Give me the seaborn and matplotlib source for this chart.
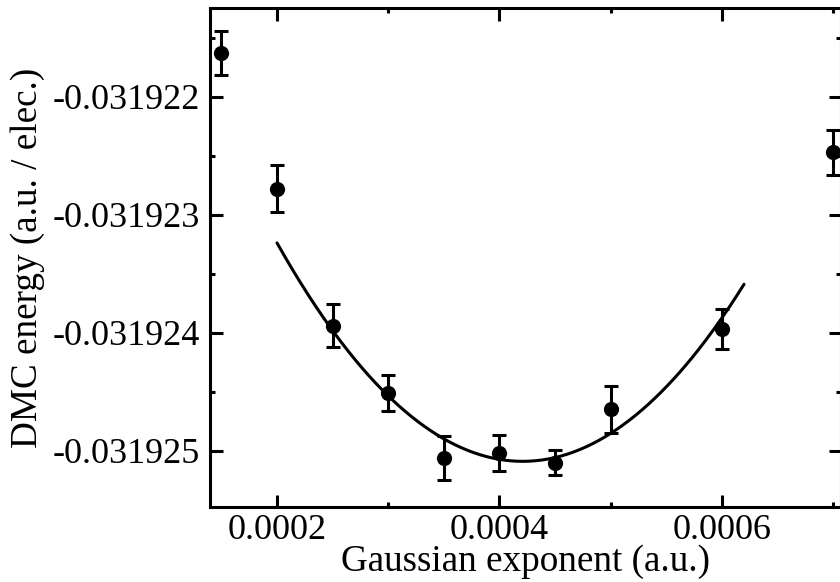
import numpy as np
import pandas as pd
import matplotlib
matplotlib.use("Agg")
import matplotlib.pyplot as plt
import seaborn as sns
from matplotlib.ticker import FixedLocator, FixedFormatter, MultipleLocator

# ---- data ----
exponent = [0.00015, 0.00020, 0.00025, 0.00030, 0.00035, 0.00040, 0.00045, 0.00050, 0.00060, 0.00070]
energy = [-0.03192163, -0.03192278, -0.03192394, -0.03192451, -0.03192506,
          -0.03192502, -0.03192510, -0.03192465, -0.03192397, -0.03192247]
energy_err = [0.00000019, 0.00000020, 0.00000018, 0.00000015, 0.000000185,
              0.000000155, 0.00000011, 0.00000020, 0.00000017, 0.00000019]

# quadratic fit curve: E = E_min + curv * (x - x_min)^2
fit_x_min = 0.000421
fit_e_min = -0.03192509
fit_curv = 37.9
fit_range = [0.00020, 0.00062]

xtick_vals = [0.0002, 0.0004, 0.0006]
xtick_labels = ["0.0002", "0.0004", "0.0006"]
ytick_vals = [-0.031922, -0.031923, -0.031924, -0.031925]
ytick_labels = ["-0.031922", "-0.031923", "-0.031924", "-0.031925"]
xlabel = "Gaussian exponent (a.u.)"
ylabel = "DMC energy (a.u. / elec.)"

sns.set_theme(style="ticks")
plt.rcParams["font.family"] = ["Liberation Serif", "DejaVu Serif"]
plt.rcParams["axes.unicode_minus"] = False

df = pd.DataFrame({"x": exponent, "e": energy, "err": energy_err})
fx = np.linspace(fit_range[0], fit_range[1], 300)
fit_df = pd.DataFrame({"x": fx, "e": fit_e_min + fit_curv * (fx - fit_x_min) ** 2})

fig = plt.figure(figsize=(8.4, 5.82), dpi=100)
ax = fig.add_axes([209.5 / 840, 75 / 582, (841 - 209.5) / 840, (507 - 8) / 582])

sns.lineplot(data=fit_df, x="x", y="e", ax=ax, color="black", linewidth=2.2, sort=False)
ax.errorbar(df["x"], df["e"], yerr=df["err"], fmt="none", ecolor="black",
            elinewidth=2.2, capsize=5, capthick=2.2, zorder=3)
sns.scatterplot(data=df, x="x", y="e", ax=ax, color="black", s=120,
                edgecolor="black", linewidth=0, zorder=4)

ax.set_xlim(0.0001393, 0.0007072)
ax.set_ylim(-0.031925477, -0.031921248)

ax.xaxis.set_major_locator(FixedLocator(xtick_vals))
ax.xaxis.set_major_formatter(FixedFormatter(xtick_labels))
ax.xaxis.set_minor_locator(MultipleLocator(0.0001))
ax.yaxis.set_major_locator(FixedLocator(ytick_vals))
ax.yaxis.set_major_formatter(FixedFormatter(ytick_labels))
ax.yaxis.set_minor_locator(MultipleLocator(0.0000005))

ax.tick_params(which="both", direction="in", top=True, right=True, color="black",
               width=2.2, labelsize=26, labelcolor="black")
ax.tick_params(which="major", length=9, pad=7)
ax.tick_params(axis="x", which="major", pad=5)
ax.tick_params(which="minor", length=3.8)
for s in ax.spines.values():
    s.set_linewidth(2.2)
    s.set_color("black")
    s.set_visible(True)

ax.set_xlabel(xlabel, fontsize=26.7, color="black", labelpad=-1.5)
ax.set_ylabel(ylabel, fontsize=26.7, color="black", labelpad=5)
ax.set_facecolor("white")
fig.patch.set_facecolor("white")

fig.savefig("out.png", dpi=100)
